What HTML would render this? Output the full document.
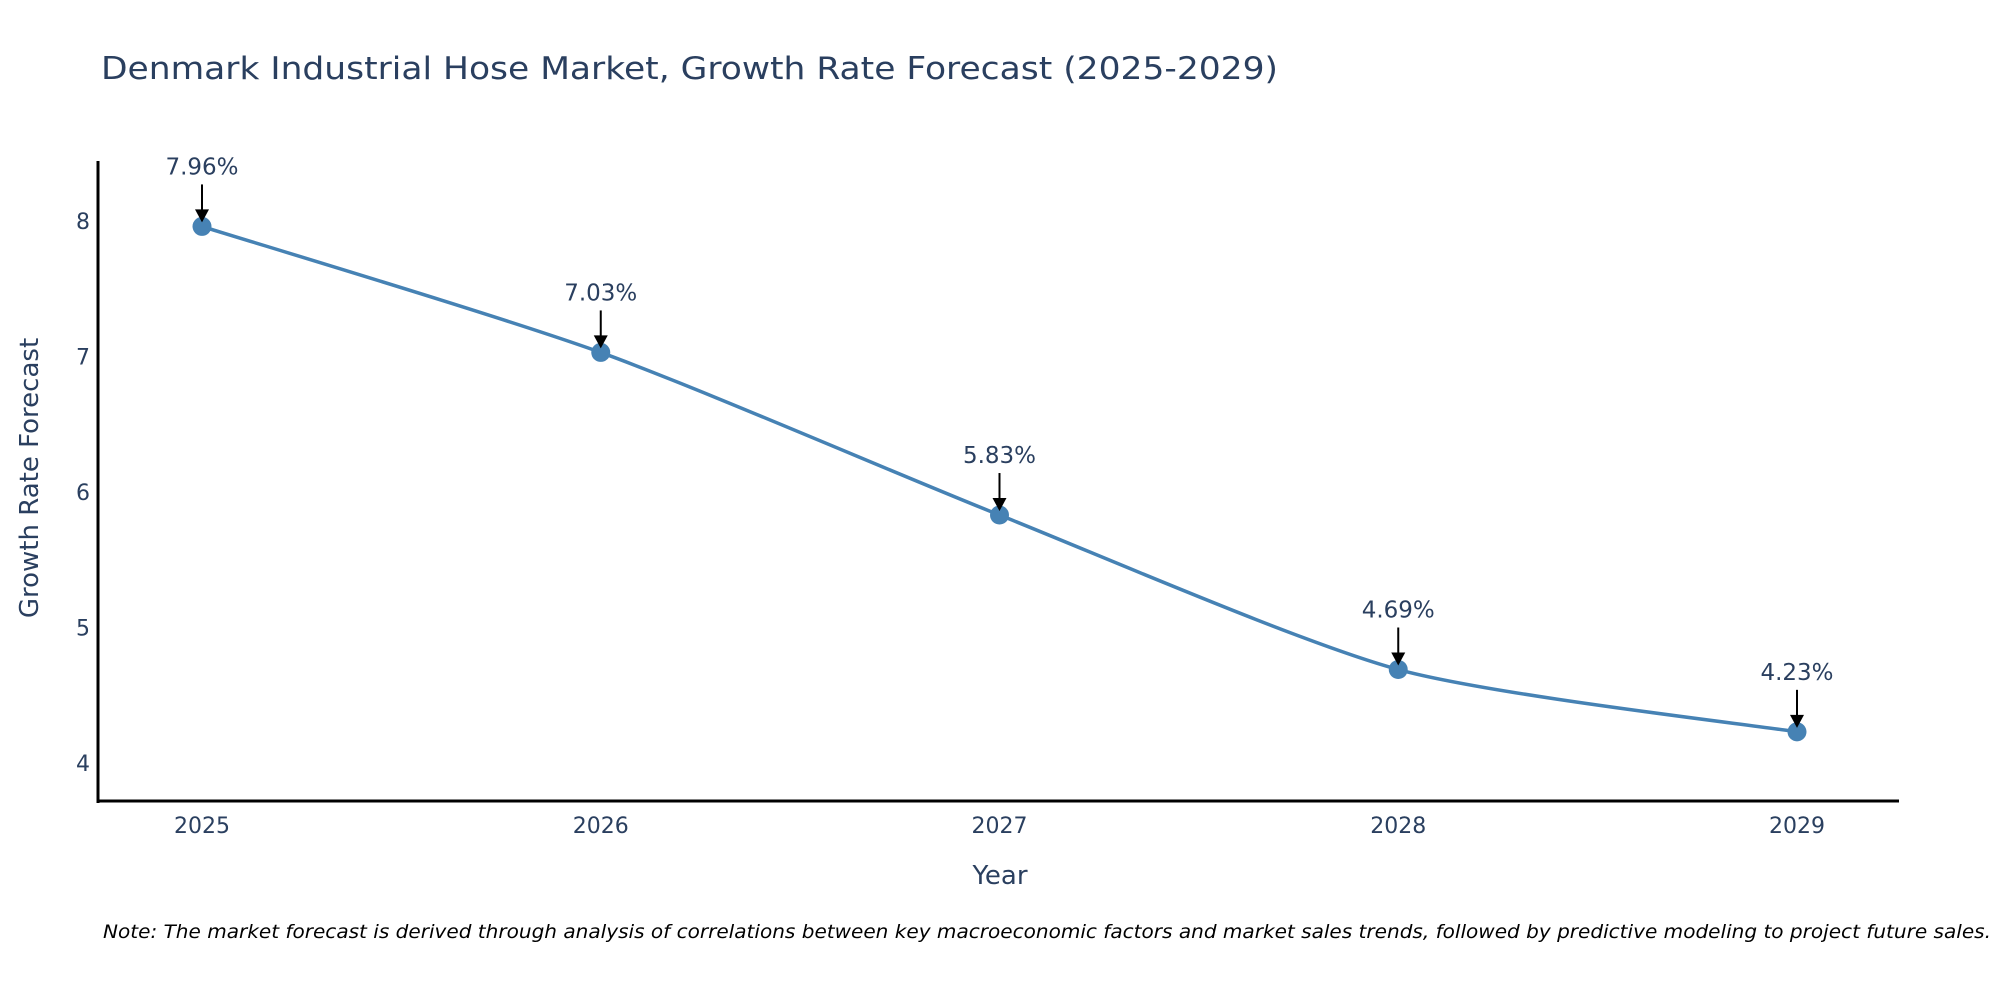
<!DOCTYPE html>
<html><head><meta charset="utf-8"><style>
body{margin:0;background:#fff;}
svg text{font-family:"DejaVu Sans","Liberation Sans",sans-serif;fill:#2a3f5f;}
</style></head><body>
<svg id="chart" width="2000" height="1000" xmlns="http://www.w3.org/2000/svg">
<rect width="2000" height="1000" fill="#fff"/>
<text x="101" y="79" font-size="31" textLength="1177" lengthAdjust="spacingAndGlyphs">Denmark Industrial Hose Market, Growth Rate Forecast (2025-2029)</text>
<g id="plot"></g>
<line x1="98" y1="161" x2="98" y2="803" stroke="#000" stroke-width="3"/>
<line x1="97" y1="801" x2="1899" y2="801" stroke="#000" stroke-width="3"/>
<text x="1000" y="884" font-size="26" text-anchor="middle">Year</text>
<text transform="translate(38,478) rotate(-90)" font-size="26" text-anchor="middle">Growth Rate Forecast</text>
<text x="1991" y="938" font-size="19" font-style="italic" style="fill:#000" text-anchor="end" textLength="1888" lengthAdjust="spacingAndGlyphs">Note: The market forecast is derived through analysis of correlations between key macroeconomic factors and market sales trends, followed by predictive modeling to project future sales.</text>
</svg>
<script>
const years=[2025,2026,2027,2028,2029];
const values=[7.96,7.03,5.83,4.69,4.23];
const labels=["7.96%","7.03%","5.83%","4.69%","4.23%"];
const yTicks=[4,5,6,7,8];
const NS="http://www.w3.org/2000/svg";
const g=document.getElementById('plot');
function xs(v){return 202+(v-2025)*398.75;}
function ys(v){return 763-(v-4)*135.5;}
function mk(t,a){const e=document.createElementNS(NS,t);for(const k in a)e.setAttribute(k,a[k]);g.appendChild(e);return e;}
yTicks.forEach(t=>{const e=mk('text',{x:90,y:ys(t)+8,'font-size':22,'text-anchor':'end'});e.textContent=t;

});
years.forEach(t=>{const e=mk('text',{x:xs(t),y:833,'font-size':22,'text-anchor':'middle'});e.textContent=t;

});
const P=years.map((y,i)=>[xs(y),ys(values[i])]);
let d='M'+P[0][0]+','+P[0][1];
for(let i=0;i<P.length-1;i++){const p0=P[Math.max(0,i-1)],p1=P[i],p2=P[i+1],p3=P[Math.min(P.length-1,i+2)];const s=0.18/1.5;
const c1=[p1[0]+(p2[0]-p0[0])*s,p1[1]+(p2[1]-p0[1])*s],c2=[p2[0]-(p3[0]-p1[0])*s,p2[1]-(p3[1]-p1[1])*s];
d+=' C'+c1+' '+c2+' '+p2;}
const line=mk('path',{d:d,fill:'none',stroke:'#4682b4','stroke-width':3.5});


P.forEach((p,i)=>{const c=mk('circle',{cx:p[0],cy:p[1],r:9.5,fill:'#4682b4'});


const a=mk('line',{x1:p[0],y1:p[1]-42,x2:p[0],y2:p[1]-14,stroke:'#000','stroke-width':2});


const h=mk('path',{d:`M${p[0]-7},${p[1]-17} L${p[0]+7},${p[1]-17} L${p[0]},${p[1]-4} Z`,fill:'#000'});


const t=mk('text',{x:p[0],y:p[1]-52,'font-size':23,'text-anchor':'middle'});t.textContent=labels[i];

});
</script>
</body></html>
